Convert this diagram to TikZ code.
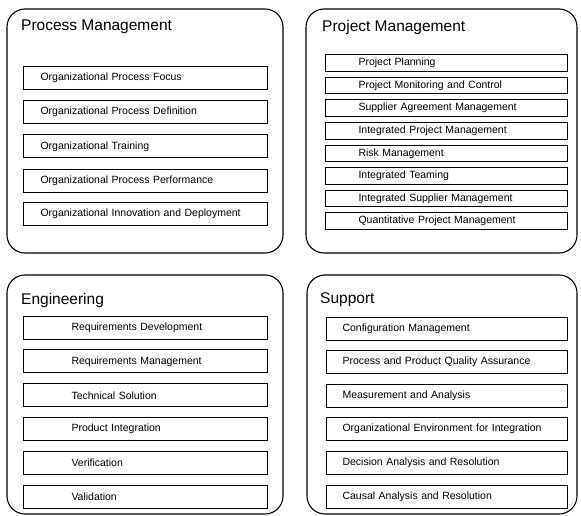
\documentclass[tikz,border=0pt]{standalone}
\usepackage{fontspec}
\setmainfont{Liberation Sans}
\begin{document}
\begin{tikzpicture}[x=1pt,y=-1pt,
  group/.style={draw=black,line width=1.1pt,rounded corners=18pt},
  gtitle/.style={anchor=west,inner sep=0pt,font=\fontsize{15.5}{18}\selectfont},
  pabox/.style={draw=black,line width=1pt,anchor=west,minimum height=23pt,inner ysep=0pt,
    align=left,font=\fontsize{10.5}{12}\selectfont},
  pmbox/.style={pabox,minimum height=16.5pt,inner xsep=33pt,text width=176pt},
  pcbox/.style={pabox,inner xsep=17pt,text width=210pt},
  enbox/.style={pabox,inner xsep=48pt,text width=148pt},
  spbox/.style={pabox,inner xsep=16pt,text width=209pt}]
\useasboundingbox (0,0) rectangle (581,516);
\fill[white] (0,0) rectangle (581,516);

% group frames
\draw[group] (7,9) rectangle (283,253);
\draw[group] (306,9) rectangle (577,253);
\draw[group] (7,275) rectangle (283,514);
\draw[group] (307,275) rectangle (577,514);

% titles
\node[gtitle] (tpc) at (21,27) {Process Management};
\node[gtitle] (tpm) at (322,27) {Project Management};
\node[gtitle] (ten) at (21,300) {Engineering};
\node[gtitle] (tsp) at (320,300) {Support};

% Process Management
\node[pcbox] (pc1) at (23,78) {Organizational Process Focus};
\node[pcbox] (pc2) at (23,112.2) {Organizational Process Definition};
\node[pcbox] (pc3) at (23,146.4) {Organizational Training};
\node[pcbox] (pc4) at (23,180.6) {Organizational Process Performance};
\node[pcbox] (pc5) at (23,214.2) {Organizational Innovation and Deployment};

% Project Management
\node[pmbox] (pm1) at (325,63) {Project Planning};
\node[pmbox] (pm2) at (325,85.6) {Project Monitoring and Control};
\node[pmbox] (pm3) at (325,108.2) {Supplier Agreement Management};
\node[pmbox] (pm4) at (325,130.8) {Integrated Project Management};
\node[pmbox] (pm5) at (325,153.4) {Risk Management};
\node[pmbox] (pm6) at (325,176) {Integrated Teaming};
\node[pmbox] (pm7) at (325,198.6) {Integrated Supplier Management};
\node[pmbox] (pm8) at (325,221.2) {Quantitative Project Management};

% Engineering
\node[enbox] (en1) at (23,327.5) {Requirements Development};
\node[enbox] (en2) at (23,361.4) {Requirements Management};
\node[enbox] (en3) at (23,395.3) {Technical Solution};
\node[enbox] (en4) at (23,429.2) {Product Integration};
\node[enbox] (en5) at (23,463.1) {Verification};
\node[enbox] (en6) at (23,496.5) {Validation};

% Support
\node[spbox] (sp1) at (326,328.5) {Configuration Management};
\node[spbox] (sp2) at (326,362) {Process and Product Quality Assurance};
\node[spbox] (sp3) at (326,395.6) {Measurement and Analysis};
\node[spbox] (sp4) at (326,429.2) {Organizational Environment for Integration};
\node[spbox] (sp5) at (326,462.8) {Decision Analysis and Resolution};
\node[spbox] (sp6) at (326,496.5) {Causal Analysis and Resolution};
\end{tikzpicture}
\end{document}
